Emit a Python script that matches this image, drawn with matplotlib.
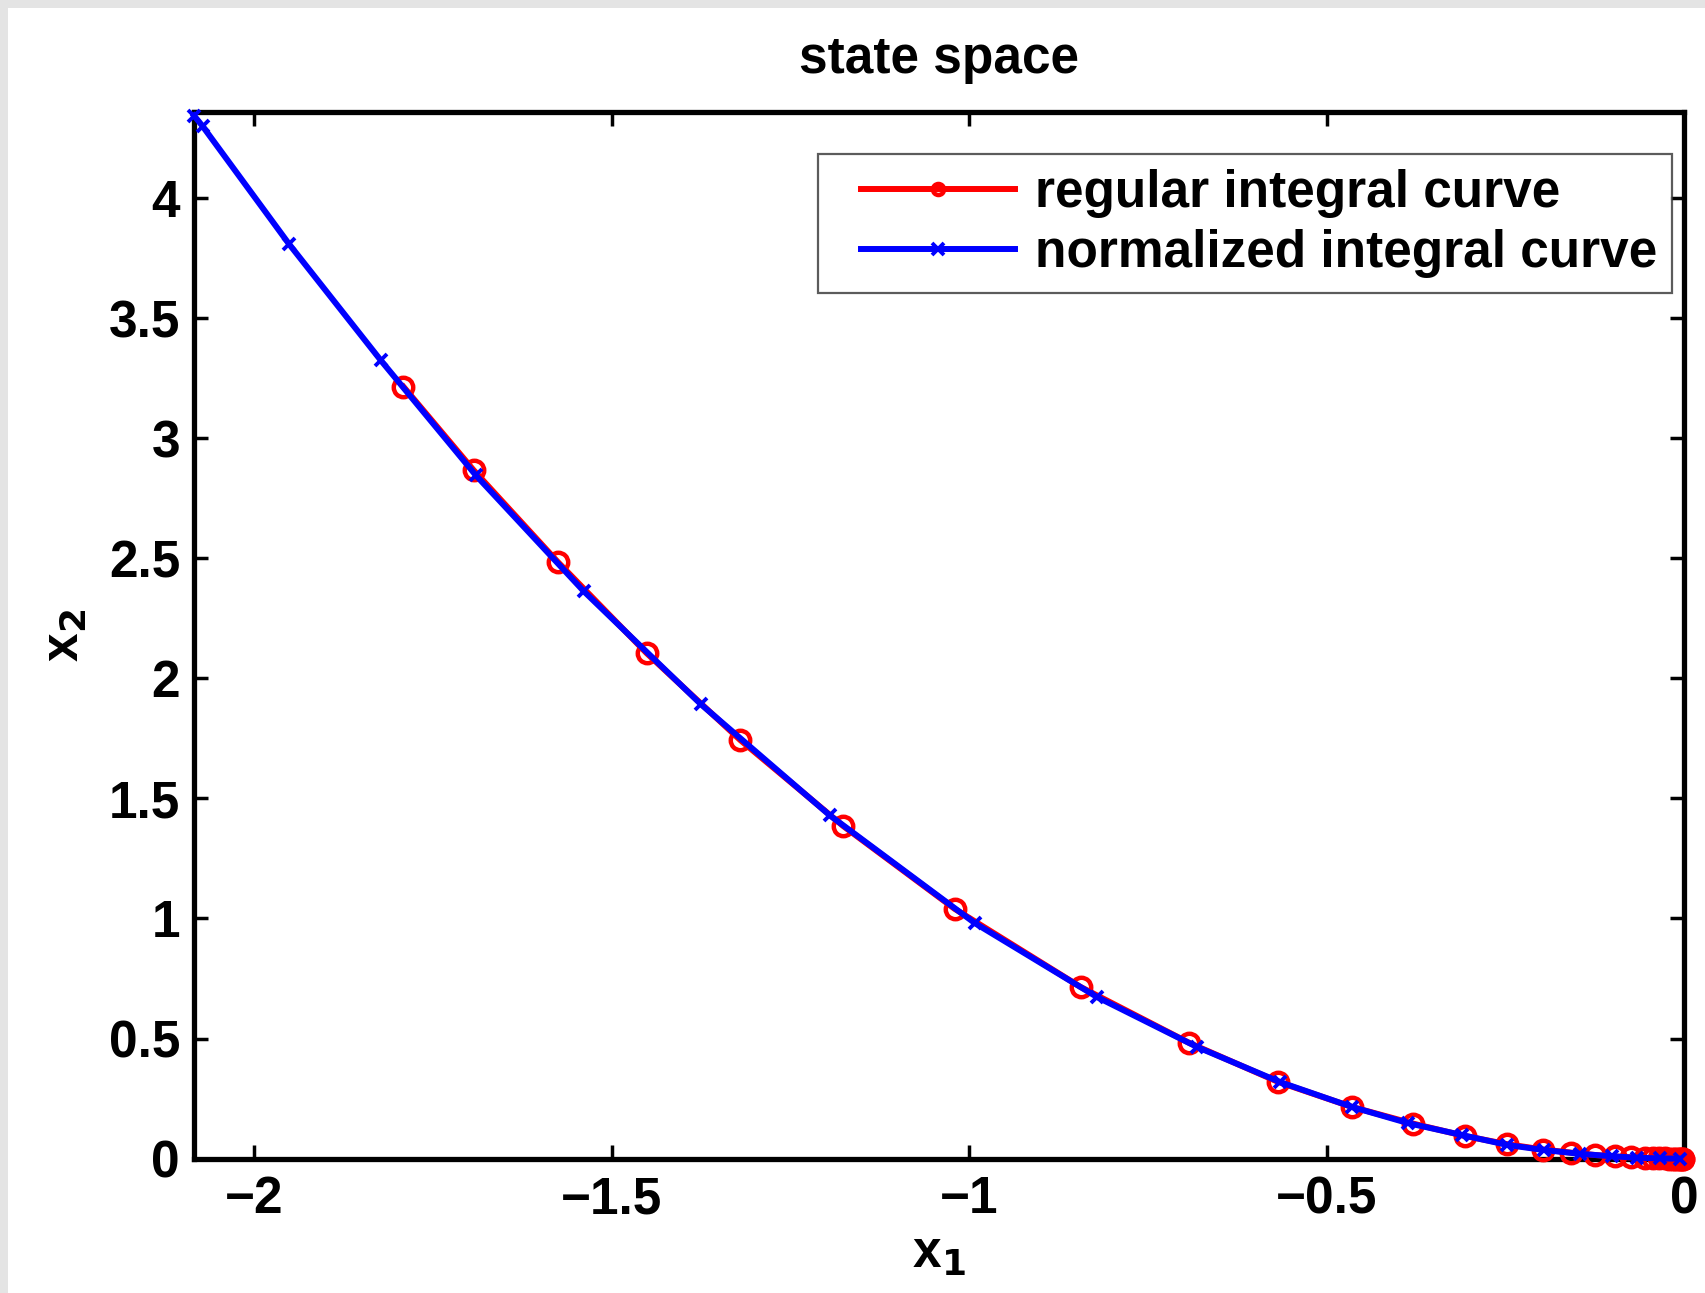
import matplotlib
matplotlib.use("Agg")
import matplotlib.pyplot as plt
from matplotlib.patches import Rectangle
from matplotlib.legend_handler import HandlerLine2D

# values
regular_x1 = [-1.791, -1.693, -1.575, -1.451, -1.320, -1.176, -1.020, -0.844,
              -0.692, -0.568, -0.464, -0.379, -0.306, -0.247, -0.197, -0.158,
              -0.124, -0.096, -0.074, -0.055, -0.044, -0.035, -0.027, -0.021,
              -0.016, -0.012, -0.009, -0.006, -0.004, -0.002, -0.001]
regular_x2 = [3.214, 2.867, 2.484, 2.105, 1.743, 1.385, 1.040, 0.715,
              0.482, 0.320, 0.215, 0.146, 0.094, 0.060, 0.038, 0.025,
              0.015, 0.009, 0.005, 0.003, 0.002, 0.001, 0.0007, 0.0004,
              0.0003, 0.0001, 0.0001, 0.0, 0.0, 0.0, 0.0]

normalized_x1 = [-2.084, -2.072, -1.951, -1.823, -1.690, -1.539, -1.375, -1.195,
                 -0.992, -0.821, -0.681, -0.565, -0.464, -0.386, -0.310, -0.247,
                 -0.196, -0.145, -0.101, -0.066, -0.034, -0.006]
normalized_x2 = [4.343, 4.299, 3.808, 3.325, 2.846, 2.363, 1.892, 1.430,
                 0.981, 0.673, 0.465, 0.319, 0.215, 0.148, 0.098, 0.057,
                 0.036, 0.020, 0.010, 0.004, 0.001, 0.0]

x_ticks = [-2, -1.5, -1, -0.5, 0]
x_tick_labels = ["\u22122", "\u22121.5", "\u22121", "\u22120.5", "0"]
y_ticks = [0, 0.5, 1, 1.5, 2, 2.5, 3, 3.5, 4]
y_tick_labels = ["0", "0.5", "1", "1.5", "2", "2.5", "3", "3.5", "4"]

FS = 37

plt.rcParams["font.family"] = ["Liberation Sans", "DejaVu Sans"]
plt.rcParams["font.weight"] = "bold"

fig = plt.figure(figsize=(17.06, 12.93), dpi=100)
fig.patch.set_facecolor("white")
# light grey frame on the top and left edges
fig.patches.append(Rectangle((0, 0), 8 / 1706, 1, transform=fig.transFigure,
                             facecolor="#e4e4e4", edgecolor="none", zorder=0))
fig.patches.append(Rectangle((0, 1 - 8 / 1293), 1, 8 / 1293, transform=fig.transFigure,
                             facecolor="#e4e4e4", edgecolor="none", zorder=0))

ax = fig.add_axes([0.1137, 0.1039, 0.8734, 0.8095])

red_line, = ax.plot(regular_x1, regular_x2, color="red", linewidth=4.3, marker="o",
                    markersize=14, markerfacecolor="none", markeredgewidth=3.2,
                    label="regular integral curve", clip_on=False, zorder=3)
blue_line, = ax.plot(normalized_x1, normalized_x2, color="blue", linewidth=4.3, marker="x",
                     markersize=9, markeredgewidth=2.8,
                     label="normalized integral curve", clip_on=False, zorder=4)

ax.set_xlim(-2.084, 0)
ax.set_ylim(0, 4.358)
ax.set_xticks(x_ticks)
ax.set_xticklabels(x_tick_labels)
ax.set_yticks(y_ticks)
ax.set_yticklabels(y_tick_labels)

ax.tick_params(direction="in", length=10, width=2.5, labelsize=FS,
               top=True, right=True, pad=12)
ax.tick_params(axis="y", pad=10)
for spine in ax.spines.values():
    spine.set_linewidth(3.8)

ax.set_title("state space", fontsize=FS, fontweight="bold", pad=28)
ax.set_xlabel("x$_\\mathbf{1}$", fontsize=FS, fontweight="bold", labelpad=4)
ax.set_ylabel("x$_\\mathbf{2}$", fontsize=FS, fontweight="bold", labelpad=14)

handler = {red_line: HandlerLine2D(xpad=0.55), blue_line: HandlerLine2D(xpad=0.55)}
leg = ax.legend(loc="upper right", bbox_to_anchor=(0.992, 0.9594), borderaxespad=0,
                fontsize=FS, handlelength=3.55, handler_map=handler,
                frameon=True, fancybox=False, borderpad=0.28,
                labelspacing=0.22, handletextpad=0.4)
leg.get_frame().set_edgecolor("#333333")
leg.get_frame().set_linewidth(1.6)
for line in leg.get_lines():
    line.set_markersize(8)

fig.savefig("out.png", dpi=100, facecolor="white")
